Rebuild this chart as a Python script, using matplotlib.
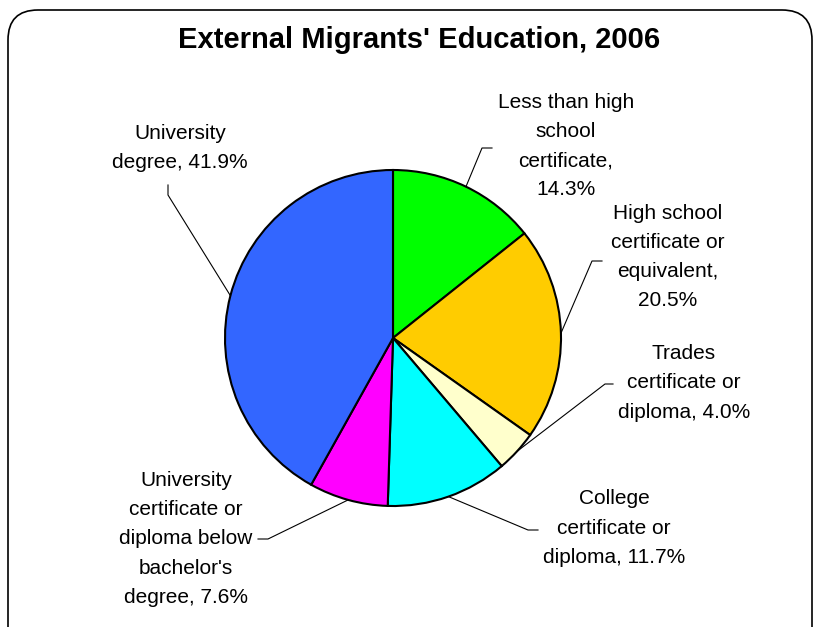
import numpy as np
import matplotlib.pyplot as plt
from matplotlib.patches import FancyBboxPatch

plt.rcParams['font.family'] = ['Liberation Sans', 'DejaVu Sans']

# data
categories = ["Less than high\nschool\ncertificate,",
              "High school\ncertificate or\nequivalent,",
              "Trades\ncertificate or\ndiploma,",
              "College\ncertificate or\ndiploma,",
              "University\ncertificate or\ndiploma below\nbachelor's\ndegree,",
              "University\ndegree,"]
shares = [14.3, 20.5, 4.0, 11.7, 7.6, 41.9]
colors = ["#00ff00", "#ffcc00", "#ffffcc", "#00ffff", "#ff00ff", "#3366ff"]

# layout (pixel coords, y from top)
W, H = 815, 627
cx, cy, rad = 393, 338, 168
text_pos = [(566, 146), (668, 257), (684, 383), (614, 528), (186, 539), (180, 148)]
elbow = [[(482, 148), (492, 148)],
         [(592, 261), (602, 261)],
         [(605, 384), (613, 384)],
         [(528, 530), (538, 530)],
         [(268, 539), (258, 539)],
         [(168, 195), (168, 185)]]
value_sep = ["\n", "\n", " ", " ", " ", " "]

fig = plt.figure(figsize=(W / 100, H / 100), dpi=100)
ax = fig.add_axes([0, 0, 1, 1])

ax.pie(shares, colors=colors, startangle=90, counterclock=False,
       center=(cx, H - cy), radius=rad,
       wedgeprops=dict(edgecolor='black', linewidth=1.5))
ax.set_xlim(0, W)
ax.set_ylim(0, H)
ax.set_aspect('auto')
ax.axis('off')

# labels and leader lines (attached at each slice's middle angle)
cum = np.cumsum([0] + shares[:-1])
for i, (lab, val) in enumerate(zip(categories, shares)):
    mid = np.deg2rad(90 - (cum[i] + val / 2) / 100 * 360)
    px = cx + rad * np.cos(mid)
    py = cy - rad * np.sin(mid)
    pts = [(px, py)] + elbow[i]
    ax.plot([p[0] for p in pts], [H - p[1] for p in pts], color='black', lw=0.8)
    tx, ty = text_pos[i]
    ax.text(tx, H - ty, f"{lab}{value_sep[i]}{val:.1f}%",
            ha='center', va='center', fontsize=15, linespacing=1.68)

ax.text(W / 2 + 12, H - 40, "External Migrants' Education, 2006",
        ha='center', va='center', fontsize=21, fontweight='bold')

# rounded border
border = FancyBboxPatch((8, -40), 804, H - 10 + 40,
                        boxstyle="round,pad=0,rounding_size=30",
                        facecolor='none', edgecolor='black', lw=1.2)
ax.add_patch(border)

fig.savefig("out.png", dpi=100)
